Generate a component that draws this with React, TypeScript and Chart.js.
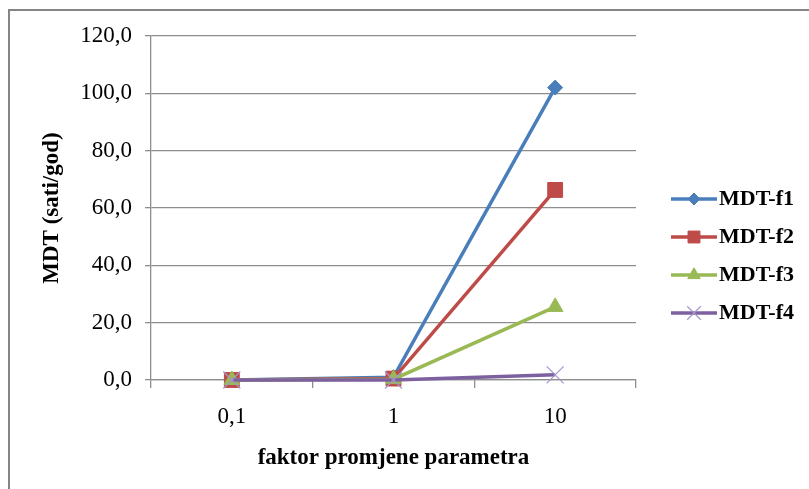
import React, { useEffect, useRef } from 'react';
import { Chart, registerables } from 'chart.js';
import { drawPoint } from 'chart.js/helpers';

Chart.register(...registerables);

const categories = ['0,1', '1', '10'];
const seriesNames = ['MDT-f1', 'MDT-f2', 'MDT-f3', 'MDT-f4'];
const f1 = [0, 1.0, 102];
const f2 = [0, 0.5, 66.3];
const f3 = [0, 0.3, 25.5];
const f4 = [0, 0, 1.8];
const yMin = 0;
const yMax = 120;
const yStep = 20;
const xTitle = 'faktor promjene parametra';
const yTitle = 'MDT (sati/god)';

const SERIF = "'Liberation Serif', 'Times New Roman', serif";
const GRID = '#8e8e8e';
const FS = 23;

const legendPlugin = {
  id: 'sideLegend',
  afterDraw(chart: any) {
    const { ctx, chartArea } = chart;
    const x0 = chartArea.right + 35;
    const lineLen = 46;
    const midY = 256;
    const gap = 38;
    ctx.save();
    chart.data.datasets.forEach((ds: any, i: number) => {
      const y = midY + (i - 1.5) * gap;
      ctx.beginPath();
      ctx.strokeStyle = ds.borderColor;
      ctx.lineWidth = ds.borderWidth;
      ctx.moveTo(x0, y);
      ctx.lineTo(x0 + lineLen, y);
      ctx.stroke();
      ctx.fillStyle = ds.pointBackgroundColor;
      ctx.strokeStyle = ds.pointBorderColor;
      ctx.lineWidth = ds.pointBorderWidth;
      drawPoint(ctx, { pointStyle: ds.pointStyle, radius: ds.pointRadius * 0.8, borderWidth: ds.pointBorderWidth, rotation: 0 } as any, x0 + lineLen / 2, y);
      ctx.fillStyle = '#000';
      ctx.font = `bold 22px ${SERIF}`;
      ctx.textBaseline = 'middle';
      ctx.textAlign = 'left';
      ctx.fillText(ds.label, x0 + lineLen + 2, y);
    });
    ctx.restore();
  },
};

export default function App() {
  const ref = useRef<HTMLCanvasElement>(null);

  useEffect(() => {
    if (!ref.current) return;
    const mk = (label: string, data: number[], color: string, style: string, radius: number, order: number, pBorder?: string, pbw = 1) => ({
      label,
      data,
      borderColor: color,
      backgroundColor: color,
      borderWidth: 3.5,
      pointStyle: style,
      pointRadius: radius,
      pointBackgroundColor: color,
      pointBorderColor: pBorder || color,
      pointBorderWidth: pbw,
      tension: 0,
      clip: false as any,
      order,
    });
    const chart = new Chart(ref.current, {
      type: 'line',
      data: {
        labels: categories,
        datasets: [
          mk(seriesNames[0], f1, '#4A7EBB', 'rectRot', 7.5, 4),
          mk(seriesNames[1], f2, '#BE4B48', 'rect', 10.5, 3),
          mk(seriesNames[2], f3, '#98B954', 'triangle', 9, 2),
          mk(seriesNames[3], f4, '#7D60A0', 'crossRot', 12, 1, '#a595cc', 1.2),
        ] as any,
      },
      options: {
        animation: false,
        responsive: false,
        devicePixelRatio: 1,
        layout: { padding: { left: 0, right: 173, top: 36, bottom: 0 } },
        plugins: {
          legend: { display: false },
          tooltip: { enabled: false },
        },
        scales: {
          x: {
            type: 'category',
            offset: true,
            grid: {
              offset: true,
              drawOnChartArea: false,
              drawTicks: true,
              tickLength: 8,
              color: GRID,
              lineWidth: 1.3,
            },
            border: { color: GRID, width: 1.3 },
            ticks: { padding: 15, color: '#000', font: { family: SERIF, size: FS } },
            title: {
              display: true,
              text: xTitle,
              color: '#000',
              font: { family: SERIF, size: FS, weight: 'bold' },
              padding: { top: 0, bottom: 17 },
            },
            afterFit: (s: any) => { s.height = 109; },
          },
          y: {
            min: yMin,
            max: yMax,
            grid: { color: GRID, lineWidth: 1.3, tickLength: 6 },
            border: { color: GRID, width: 1.3 },
            ticks: {
              stepSize: yStep,
              padding: 13,
              color: '#000',
              font: { family: SERIF, size: FS },
              callback: (v: any) => Number(v).toFixed(1).replace('.', ','),
            },
            title: {
              display: true,
              text: yTitle,
              color: '#000',
              font: { family: SERIF, size: FS, weight: 'bold' },
              padding: { top: 38.2, bottom: 0 },
            },
            afterFit: (s: any) => { s.width = 151; },
          },
        },
      } as any,
      plugins: [legendPlugin],
    });
    return () => chart.destroy();
  }, []);

  return (
    <div style={{ position: 'fixed', left: 0, top: 0, width: 809, height: 489, overflow: 'hidden', background: '#fff' }}>
      <div style={{ position: 'absolute', left: 8, top: 9, width: 900, height: 600, borderLeft: '2px solid #858585', borderTop: '2px solid #858585', boxSizing: 'border-box' }} />
      <canvas ref={ref} width={809} height={489} style={{ position: 'absolute', left: 0, top: 0, display: 'block' }} />
    </div>
  );
}
